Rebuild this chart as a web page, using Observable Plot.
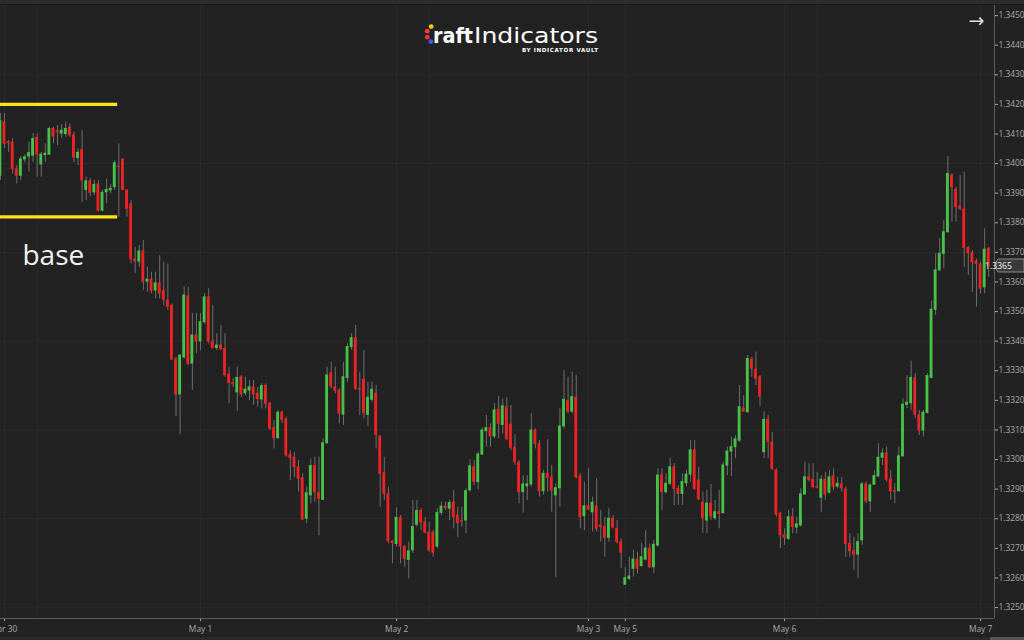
<!DOCTYPE html>
<html>
<head>
<meta charset="utf-8">
<script src="https://cdn.jsdelivr.net/npm/d3@7"></script>
<script src="https://cdn.jsdelivr.net/npm/@observablehq/plot@0.6"></script>
<style>
html, body { margin: 0; padding: 0; background: #222222; }
#wrap { position: relative; width: 1024px; height: 640px; overflow: hidden; background: #222222; }
#chart svg { display: block; }
.topbar { position: absolute; left: 0; top: 0; width: 1024px; height: 4px; background: #2d2d2d; border-bottom: 1px solid #1a1a1a; }
.botbar { position: absolute; left: 0; top: 637px; width: 1024px; height: 3px; background: #2a2a2a; }
.scroll { position: absolute; left: 990px; top: 637px; width: 34px; height: 3px; background: #555555; }
.ov { position: absolute; left: 0; top: 0; pointer-events: none; }
</style>
</head>
<body>
<div id="wrap">
  <div id="chart"></div>
  <div class="topbar"></div>
  <div class="botbar"></div>
  <div class="scroll"></div>
  <svg class="ov" width="1024" height="640">
    <circle cx="431.2" cy="26.6" r="2.4" fill="#f6c81a"/>
    <circle cx="427.2" cy="31.2" r="2.4" fill="#ef3a3a"/>
    <circle cx="427.2" cy="37.2" r="2.4" fill="#e5304f"/>
    <circle cx="430.8" cy="41.6" r="2.4" fill="#4d55e8"/>
    <text x="433" y="43.3" font-family="DejaVu Sans" font-size="21" font-weight="bold" fill="#ffffff" textLength="40" lengthAdjust="spacingAndGlyphs">raft</text>
    <text x="474" y="43.3" font-family="DejaVu Sans" font-size="21" fill="#ffffff" textLength="124" lengthAdjust="spacingAndGlyphs">Indicators</text>
    <text x="522" y="51.5" font-family="DejaVu Sans" font-size="5.6" font-weight="bold" fill="#ffffff" textLength="76" lengthAdjust="spacing">BY INDICATOR VAULT</text>
    <text x="976.5" y="27" font-family="DejaVu Sans" font-size="19" fill="#dddddd" text-anchor="middle">→</text>
  </svg>
</div>
<script>
// ---- 30-minute bars (index 0 = first visible bar) ----
const open = [
1.33959,1.34139,1.34072,1.34072,1.33980,1.33959,1.34014,1.34024,1.34027,1.34087,
1.33997,1.34029,1.34030,1.34117,1.34109,1.34101,1.34100,1.34121,1.34095,1.34019,
1.34046,1.33911,1.33940,1.33903,1.33929,1.33841,1.33903,1.33909,1.33920,1.33990,
1.34014,1.33909,1.33862,1.33675,1.33669,1.33703,1.33601,1.33608,1.33571,1.33595,
1.33569,1.33537,1.33520,1.33338,1.33220,1.33345,1.33551,1.33324,1.33419,1.33399,
1.33464,1.33548,1.33399,1.33377,1.33385,1.33373,1.33287,1.33259,1.33227,1.33278,
1.33224,1.33233,1.33244,1.33222,1.33203,1.33249,1.33188,1.33106,1.33072,1.33159,
1.33135,1.33015,1.33006,1.32974,1.32937,1.32800,1.32879,1.32978,1.32886,1.32864,
1.33055,1.33292,1.33244,1.33233,1.33152,1.33276,1.33380,1.33410,1.33239,1.33269,
1.33151,1.33202,1.33222,1.33078,1.32954,1.32882,1.32722,1.32715,1.32803,1.32704,
1.32661,1.32693,1.32780,1.32826,1.32788,1.32753,1.32753,1.32706,1.32820,1.32841,
1.32834,1.32855,1.32811,1.32792,1.32794,1.32896,1.32974,1.32924,1.33017,1.33096,
1.33106,1.33078,1.33168,1.33117,1.33177,1.33118,1.33040,1.32989,1.32890,1.32910,
1.32916,1.33098,1.33051,1.32893,1.32952,1.32940,1.32879,1.32903,1.33112,1.33197,
1.33162,1.33209,1.32943,1.32809,1.32842,1.32822,1.32842,1.32777,1.32772,1.32736,
1.32800,1.32766,1.32721,1.32577,1.32597,1.32631,1.32662,1.32640,1.32662,1.32699,
1.32636,1.32710,1.32946,1.32890,1.32918,1.32974,1.32901,1.32884,1.32920,1.32949,
1.33031,1.32929,1.32854,1.32794,1.32851,1.32802,1.32822,1.32819,1.32980,1.33027,
1.33042,1.33064,1.33172,1.33160,1.33337,1.33304,1.33278,1.33025,1.33134,1.33057,
1.32963,1.32817,1.32744,1.32732,1.32805,1.32770,1.32777,1.32882,1.32940,1.32932,
1.32907,1.32871,1.32932,1.32888,1.32943,1.32909,1.32916,1.32898,1.32715,1.32690,
1.32679,1.32727,1.32916,1.32859,1.32915,1.32943,1.33006,1.33020,1.32933,1.32893,
1.32893,1.33011,1.33185,1.33190,1.33274,1.33149,1.33098,1.33158,1.33276,1.33506,
1.33639,1.33695,1.33768,1.33960,1.33911,1.33855,1.33845,1.33715,1.33697,1.33669,
1.33659,1.33582,1.33712
];
const high = [
1.34169,1.34169,1.34078,1.34084,1.33993,1.34024,1.34030,1.34072,1.34102,1.34100,
1.34038,1.34067,1.34122,1.34122,1.34128,1.34132,1.34140,1.34134,1.34106,1.34050,
1.34111,1.33954,1.33949,1.33943,1.33943,1.33909,1.33948,1.33929,1.34010,1.34067,
1.34016,1.33911,1.33875,1.33717,1.33723,1.33740,1.33650,1.33633,1.33633,1.33689,
1.33667,1.33661,1.33526,1.33345,1.33355,1.33584,1.33582,1.33493,1.33493,1.33493,
1.33561,1.33577,1.33520,1.33425,1.33453,1.33425,1.33312,1.33274,1.33312,1.33284,
1.33278,1.33267,1.33267,1.33244,1.33256,1.33256,1.33194,1.33132,1.33166,1.33163,
1.33143,1.33030,1.33024,1.32997,1.32952,1.32907,1.33002,1.33008,1.33008,1.33070,
1.33312,1.33329,1.33312,1.33239,1.33329,1.33391,1.33425,1.33453,1.33295,1.33368,
1.33261,1.33261,1.33250,1.33081,1.33008,1.32907,1.32727,1.32837,1.32811,1.32710,
1.32721,1.32862,1.32862,1.32834,1.32805,1.32788,1.32760,1.32834,1.32856,1.32856,
1.32862,1.32896,1.32839,1.32839,1.32901,1.32999,1.32997,1.33025,1.33107,1.33149,
1.33121,1.33188,1.33213,1.33205,1.33209,1.33183,1.33085,1.32997,1.32946,1.32946,
1.33155,1.33104,1.33064,1.32963,1.33067,1.32980,1.32918,1.33172,1.33301,1.33278,
1.33295,1.33284,1.32952,1.32924,1.32969,1.32873,1.32935,1.32828,1.32805,1.32834,
1.32811,1.32794,1.32732,1.32636,1.32670,1.32693,1.32687,1.32718,1.32760,1.32715,
1.32727,1.32969,1.32969,1.32952,1.33003,1.32987,1.32912,1.32952,1.32963,1.33064,
1.33064,1.32974,1.32890,1.32896,1.32916,1.32862,1.32896,1.32991,1.33042,1.33076,
1.33081,1.33250,1.33216,1.33352,1.33345,1.33363,1.33284,1.33163,1.33149,1.33092,
1.32969,1.32822,1.32766,1.32828,1.32834,1.32805,1.32901,1.32991,1.32986,1.32986,
1.32957,1.32946,1.32957,1.32963,1.32969,1.32940,1.32940,1.32907,1.32749,1.32738,
1.32749,1.32924,1.32924,1.32918,1.32963,1.33053,1.33036,1.33042,1.32963,1.32918,
1.33042,1.33205,1.33284,1.33332,1.33290,1.33166,1.33166,1.33290,1.33535,1.33695,
1.33746,1.33808,1.34024,1.33965,1.33920,1.33960,1.33971,1.33720,1.33706,1.33678,
1.33667,1.33780,1.33717
];
const low = [
1.33943,1.34051,1.34038,1.33965,1.33931,1.33943,1.34003,1.33971,1.34004,1.33954,
1.33954,1.34004,1.34027,1.34067,1.34061,1.34085,1.34089,1.34089,1.34004,1.33993,
1.33869,1.33875,1.33889,1.33892,1.33836,1.33836,1.33864,1.33899,1.33909,1.33819,
1.33909,1.33819,1.33661,1.33628,1.33650,1.33571,1.33565,1.33560,1.33543,1.33543,
1.33520,1.33503,1.33335,1.33145,1.33085,1.33340,1.33318,1.33233,1.33358,1.33368,
1.33458,1.33391,1.33374,1.33368,1.33368,1.33278,1.33189,1.33243,1.33163,1.33210,
1.33216,1.33199,1.33183,1.33177,1.33171,1.33171,1.33098,1.33036,1.33070,1.33121,
1.33008,1.32929,1.32940,1.32890,1.32794,1.32783,1.32850,1.32856,1.32743,1.32862,
1.33053,1.33239,1.33222,1.33121,1.33115,1.33261,1.33368,1.33233,1.33149,1.33138,
1.33112,1.33194,1.33036,1.32839,1.32862,1.32715,1.32648,1.32704,1.32648,1.32636,
1.32597,1.32682,1.32772,1.32760,1.32749,1.32687,1.32670,1.32699,1.32811,1.32828,
1.32794,1.32766,1.32736,1.32772,1.32749,1.32890,1.32912,1.32898,1.33014,1.33042,
1.33042,1.33070,1.33070,1.33087,1.33064,1.33031,1.32980,1.32851,1.32819,1.32862,
1.32907,1.33036,1.32873,1.32879,1.32890,1.32822,1.32601,1.32839,1.33104,1.33155,
1.33155,1.32935,1.32766,1.32760,1.32828,1.32755,1.32755,1.32721,1.32670,1.32721,
1.32766,1.32715,1.32631,1.32575,1.32592,1.32603,1.32614,1.32636,1.32659,1.32631,
1.32614,1.32704,1.32828,1.32884,1.32912,1.32845,1.32845,1.32845,1.32907,1.32924,
1.32896,1.32862,1.32751,1.32749,1.32794,1.32794,1.32766,1.32817,1.32946,1.32943,
1.33003,1.33059,1.33160,1.33157,1.33278,1.33250,1.33179,1.33003,1.33003,1.32963,
1.32805,1.32699,1.32710,1.32727,1.32749,1.32749,1.32772,1.32879,1.32924,1.32901,
1.32901,1.32822,1.32862,1.32884,1.32896,1.32901,1.32890,1.32670,1.32670,1.32625,
1.32598,1.32710,1.32851,1.32822,1.32912,1.32940,1.32980,1.32924,1.32862,1.32851,
1.32890,1.33008,1.33172,1.33166,1.33138,1.33081,1.33076,1.33155,1.33273,1.33487,
1.33636,1.33644,1.33765,1.33802,1.33802,1.33841,1.33650,1.33622,1.33565,1.33515,
1.33560,1.33560,1.33616
];
const close = [
1.34143,1.34067,1.34069,1.33982,1.33959,1.34014,1.34021,1.34035,1.34083,1.34030,
1.34030,1.34033,1.34117,1.34092,1.34106,1.34111,1.34117,1.34095,1.34021,1.34036,
1.33943,1.33940,1.33901,1.33928,1.33841,1.33901,1.33911,1.33915,1.34001,1.33988,
1.33911,1.33847,1.33676,1.33669,1.33703,1.33601,1.33608,1.33571,1.33595,1.33561,
1.33540,1.33517,1.33338,1.33220,1.33351,1.33554,1.33324,1.33419,1.33399,1.33464,
1.33548,1.33399,1.33376,1.33385,1.33373,1.33285,1.33259,1.33254,1.33276,1.33220,
1.33236,1.33244,1.33220,1.33204,1.33248,1.33188,1.33104,1.33072,1.33158,1.33134,
1.33014,1.33005,1.32974,1.32935,1.32798,1.32886,1.32978,1.32890,1.32867,1.33055,
1.33284,1.33247,1.33233,1.33155,1.33278,1.33380,1.33410,1.33239,1.33237,1.33157,
1.33209,1.33236,1.33084,1.32952,1.32884,1.32724,1.32718,1.32803,1.32706,1.32665,
1.32690,1.32772,1.32826,1.32788,1.32753,1.32693,1.32685,1.32820,1.32841,1.32836,
1.32853,1.32805,1.32785,1.32790,1.32893,1.32977,1.32924,1.33017,1.33098,1.33106,
1.33078,1.33166,1.33121,1.33180,1.33070,1.33040,1.32991,1.32890,1.32916,1.32916,
1.33098,1.33053,1.32893,1.32952,1.32938,1.32896,1.32903,1.33112,1.33202,1.33162,
1.33211,1.32940,1.32805,1.32842,1.32831,1.32854,1.32766,1.32772,1.32736,1.32800,
1.32770,1.32721,1.32685,1.32599,1.32605,1.32662,1.32631,1.32670,1.32699,1.32636,
1.32712,1.32946,1.32890,1.32918,1.32974,1.32901,1.32884,1.32924,1.32949,1.33031,
1.32901,1.32865,1.32802,1.32851,1.32808,1.32822,1.32817,1.32980,1.33027,1.33042,
1.33068,1.33177,1.33162,1.33340,1.33307,1.33273,1.33213,1.33134,1.33059,1.32969,
1.32814,1.32744,1.32736,1.32805,1.32772,1.32781,1.32882,1.32940,1.32932,1.32907,
1.32905,1.32932,1.32882,1.32940,1.32907,1.32918,1.32903,1.32715,1.32690,1.32679,
1.32721,1.32916,1.32859,1.32912,1.32944,1.33006,1.33020,1.32932,1.32893,1.32891,
1.33011,1.33185,1.33192,1.33276,1.33152,1.33098,1.33158,1.33282,1.33506,1.33639,
1.33695,1.33768,1.33965,1.33920,1.33853,1.33847,1.33715,1.33697,1.33667,1.33661,
1.33577,1.33709,1.33654
];

// ---- axis ticks ----
const tickBars   = [1, 49, 97, 144, 153, 192, 240];
const tickLabels = ["Apr 30", "May 1", "May 2", "May 3", "May 5", "May 6", "May 7"];
const priceTicks = [1.3250,1.3260,1.3270,1.3280,1.3290,1.3300,1.3310,1.3320,1.3330,1.3340,
                    1.3350,1.3360,1.3370,1.3380,1.3390,1.3400,1.3410,1.3420,1.3430,1.3440,1.3450];
const gridPrices = [1.3250, 1.3280, 1.3310, 1.3340, 1.3370, 1.3400, 1.3430];
const gridBars   = [1, 9, 49, 97, 105, 144, 153, 192, 200, 240];

// ---- "base" annotation ----
const baseTop = 1.3420;
const baseBottom = 1.3382;
const baseEndBar = 28.7;
const baseLabel = [{bar: 5.4, price: 1.33686, text: "base"}];

// ---- layout ----
const W = 1024, H = 640, mR = 30, mB = 22;
const plotW = W - mR;
const pxPerBar = 4.084, firstBarX = -0.1;
const xDomain = [(0 - firstBarX) / pxPerBar, (plotW - firstBarX) / pxPerBar];
const yDomain = [1.32463, 1.34551];

const bars = d3.range(open.length).map(i => ({i, open: open[i], high: high[i], low: low[i], close: close[i]}));
const up = bars.filter(d => d.close >= d.open);
const down = bars.filter(d => d.close < d.open);
const labelOf = new Map(tickBars.map((b, k) => [b, tickLabels[k]]));
const half = 0.35;

const GREEN = "#47c247", RED = "#ee2222", WICK = "#6e6e6e", GRID = "#2b2b2b", AXIS = "#5c5c5c";

const chart = Plot.plot({
  width: W, height: H,
  marginTop: 0, marginBottom: mB, marginLeft: 0, marginRight: mR,
  style: {background: "#222222", color: "#a9a9a9", fontFamily: "'Open Sans', sans-serif", fontSize: "8.4px"},
  x: {domain: xDomain, ticks: tickBars, tickFormat: d => labelOf.get(d), tickSize: 3, tickPadding: 5, label: null},
  y: {domain: yDomain, axis: "right", ticks: priceTicks, tickFormat: d3.format(".4f"), tickSize: 3, tickPadding: 1, label: null},
  marks: [
    Plot.ruleY(gridPrices, {stroke: GRID}),
    Plot.ruleX(gridBars, {stroke: GRID}),
    Plot.ruleX(bars, {x: "i", y1: "low", y2: "high", stroke: WICK, strokeWidth: 1, clip: true}),
    Plot.rect(up, {x1: d => d.i - half, x2: d => d.i + half, y1: "open", y2: "close", fill: GREEN, insetTop: -0.5, insetBottom: -0.5, clip: true}),
    Plot.rect(down, {x1: d => d.i - half, x2: d => d.i + half, y1: "open", y2: "close", fill: RED, insetTop: -0.5, insetBottom: -0.5, clip: true}),
    Plot.ruleY([baseTop, baseBottom], {x1: xDomain[0], x2: baseEndBar, stroke: "#ffe21a", strokeWidth: 3.2}),
    Plot.text(baseLabel, {x: "bar", y: "price", text: "text", fill: "#f2f2f2", fontSize: 28, textAnchor: "start", fontFamily: "'Open Sans', sans-serif"}),
    Plot.ruleY([yDomain[0]], {stroke: AXIS}),
    Plot.ruleX([xDomain[1]], {stroke: AXIS})
  ]
});

// current price marker on the price axis
const lastClose = close[close.length - 1];
const yPos = chart.scale("y").apply(lastClose);
const g = d3.select(chart).append("g");
g.append("path")
  .attr("d", `M${plotW},${yPos} L${plotW + 4},${yPos - 6.5} L${W},${yPos - 6.5} L${W},${yPos + 6.5} L${plotW + 4},${yPos + 6.5} Z`)
  .attr("fill", "#3a3a3a").attr("stroke", "#8c8c8c").attr("stroke-width", 1);
g.append("text")
  .attr("x", plotW + 4.5).attr("y", yPos + 3.2)
  .attr("fill", "#f4f4f4").attr("font-size", 8.6).attr("font-family", "'Open Sans', sans-serif")
  .text(d3.format(".4f")(lastClose));

document.getElementById("chart").appendChild(chart);
</script>
</body>
</html>
